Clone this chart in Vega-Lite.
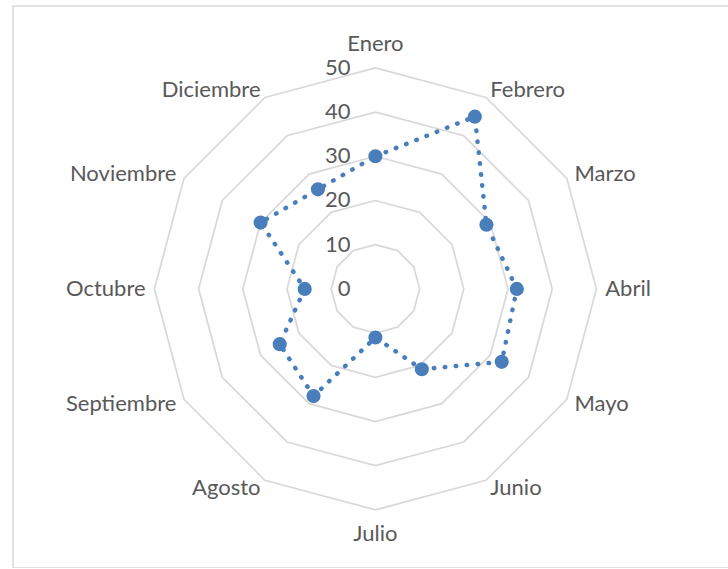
{
  "$schema": "https://vega.github.io/schema/vega-lite/v6.json",
  "width": 716,
  "height": 562,
  "autosize": {"type": "none"},
  "padding": {"left": 13, "top": 6, "right": 0, "bottom": 0},
  "background": "white",
  "config": {
    "view": {"stroke": "#d9d9d9", "strokeWidth": 1.5},
    "text": {"font": "Lato", "fontSize": 22, "color": "#595959"}
  },
  "datasets": {
    "meses": [
      {"mes": "Enero", "k": 0, "valor": 30},
      {"mes": "Febrero", "k": 1, "valor": 45},
      {"mes": "Marzo", "k": 2, "valor": 29},
      {"mes": "Abril", "k": 3, "valor": 32},
      {"mes": "Mayo", "k": 4, "valor": 33},
      {"mes": "Junio", "k": 5, "valor": 21},
      {"mes": "Julio", "k": 6, "valor": 11},
      {"mes": "Agosto", "k": 7, "valor": 28},
      {"mes": "Septiembre", "k": 8, "valor": 25},
      {"mes": "Octubre", "k": 9, "valor": 16},
      {"mes": "Noviembre", "k": 10, "valor": 30},
      {"mes": "Diciembre", "k": 11, "valor": 26},
      {"mes": "Enero", "k": 12, "valor": 30}
    ],
    "marcas": [
      {"v": 0}, {"v": 10}, {"v": 20}, {"v": 30}, {"v": 40}, {"v": 50}
    ]
  },
  "layer": [
    {
      "data": {"name": "meses"},
      "transform": [
        {"calculate": "[10,20,30,40,50]", "as": "nivel"},
        {"flatten": ["nivel"]},
        {"calculate": "datum.nivel * sin(datum.k * PI / 6)", "as": "gx"},
        {"calculate": "datum.nivel * cos(datum.k * PI / 6)", "as": "gy"}
      ],
      "mark": {"type": "line", "stroke": "#d9d9d9", "strokeWidth": 1.75},
      "encoding": {
        "x": {"field": "gx", "type": "quantitative", "scale": {"domain": [-82, 80], "nice": false, "zero": false}, "axis": null},
        "y": {"field": "gy", "type": "quantitative", "scale": {"domain": [-63.15, 64], "nice": false, "zero": false}, "axis": null},
        "detail": {"field": "nivel", "type": "nominal"},
        "order": {"field": "k", "type": "quantitative"}
      }
    },
    {
      "data": {"name": "meses"},
      "transform": [
        {"calculate": "datum.valor * sin(datum.k * PI / 6)", "as": "px"},
        {"calculate": "datum.valor * cos(datum.k * PI / 6)", "as": "py"}
      ],
      "mark": {"type": "line", "stroke": "#4a7ebb", "strokeWidth": 4.5, "strokeDash": [0.5, 10.5], "strokeCap": "round"},
      "encoding": {
        "x": {"field": "px", "type": "quantitative", "scale": {"domain": [-82, 80], "nice": false, "zero": false}, "axis": null},
        "y": {"field": "py", "type": "quantitative", "scale": {"domain": [-63.15, 64], "nice": false, "zero": false}, "axis": null},
        "order": {"field": "k", "type": "quantitative"}
      }
    },
    {
      "data": {"name": "meses"},
      "transform": [
        {"filter": "datum.k < 12"},
        {"calculate": "datum.valor * sin(datum.k * PI / 6)", "as": "px"},
        {"calculate": "datum.valor * cos(datum.k * PI / 6)", "as": "py"}
      ],
      "mark": {"type": "circle", "size": 200, "opacity": 1, "color": "#4a7ebb"},
      "encoding": {
        "x": {"field": "px", "type": "quantitative", "scale": {"domain": [-82, 80], "nice": false, "zero": false}, "axis": null},
        "y": {"field": "py", "type": "quantitative", "scale": {"domain": [-63.15, 64], "nice": false, "zero": false}, "axis": null}
      }
    },
    {
      "data": {"name": "meses"},
      "transform": [
        {"filter": "datum.k >= 1 && datum.k <= 5"},
        {"calculate": "52 * sin(datum.k * PI / 6)", "as": "lx"},
        {"calculate": "52 * cos(datum.k * PI / 6)", "as": "ly"}
      ],
      "mark": {"type": "text", "align": "left", "baseline": "middle"},
      "encoding": {
        "x": {"field": "lx", "type": "quantitative", "scale": {"domain": [-82, 80], "nice": false, "zero": false}, "axis": null},
        "y": {"field": "ly", "type": "quantitative", "scale": {"domain": [-63.15, 64], "nice": false, "zero": false}, "axis": null},
        "text": {"field": "mes"}
      }
    },
    {
      "data": {"name": "meses"},
      "transform": [
        {"filter": "datum.k >= 7 && datum.k <= 11"},
        {"calculate": "52 * sin(datum.k * PI / 6)", "as": "lx"},
        {"calculate": "52 * cos(datum.k * PI / 6)", "as": "ly"}
      ],
      "mark": {"type": "text", "align": "right", "baseline": "middle"},
      "encoding": {
        "x": {"field": "lx", "type": "quantitative", "scale": {"domain": [-82, 80], "nice": false, "zero": false}, "axis": null},
        "y": {"field": "ly", "type": "quantitative", "scale": {"domain": [-63.15, 64], "nice": false, "zero": false}, "axis": null},
        "text": {"field": "mes"}
      }
    },
    {
      "data": {"name": "meses"},
      "transform": [
        {"filter": "datum.k == 0 || datum.k == 6"},
        {"calculate": "55.5 * sin(datum.k * PI / 6)", "as": "lx"},
        {"calculate": "55.5 * cos(datum.k * PI / 6)", "as": "ly"}
      ],
      "mark": {"type": "text", "align": "center", "baseline": "middle"},
      "encoding": {
        "x": {"field": "lx", "type": "quantitative", "scale": {"domain": [-82, 80], "nice": false, "zero": false}, "axis": null},
        "y": {"field": "ly", "type": "quantitative", "scale": {"domain": [-63.15, 64], "nice": false, "zero": false}, "axis": null},
        "text": {"field": "mes"}
      }
    },
    {
      "data": {"name": "marcas"},
      "mark": {"type": "text", "align": "right", "baseline": "middle", "dx": -25},
      "encoding": {
        "x": {"datum": 0, "type": "quantitative", "scale": {"domain": [-82, 80], "nice": false, "zero": false}, "axis": null},
        "y": {"field": "v", "type": "quantitative", "scale": {"domain": [-63.15, 64], "nice": false, "zero": false}, "axis": null},
        "text": {"field": "v"}
      }
    }
  ]
}
